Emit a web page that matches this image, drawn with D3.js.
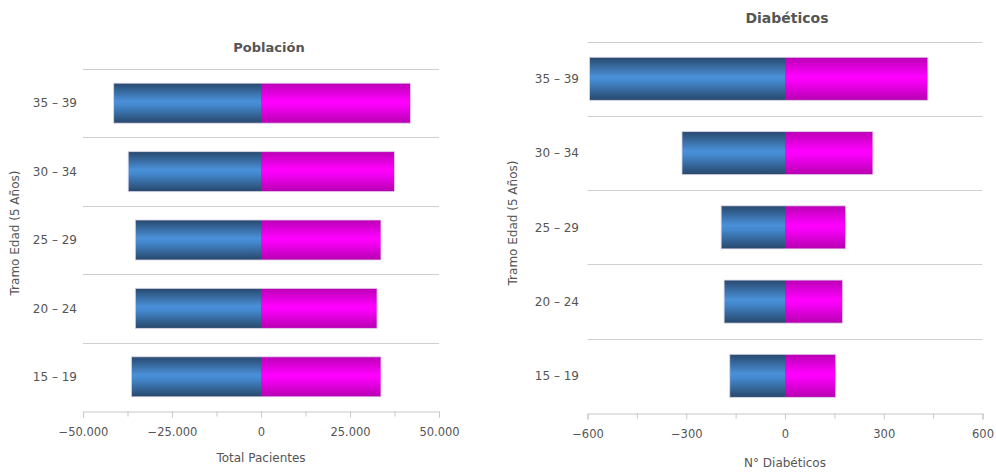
<!DOCTYPE html>
<html>
<head>
<meta charset="utf-8">
<script src="https://cdn.jsdelivr.net/npm/d3@7"></script>
<style>
html,body{margin:0;padding:0;background:#fff;}
svg{display:block;}
text{font-family:"DejaVu Sans",sans-serif;fill:#555;}
</style>
</head>
<body>
<svg id="chart" width="996" height="472"></svg>
<script>
// ---- data ----
const categories = ["15 – 19", "20 – 24", "25 – 29", "30 – 34", "35 – 39"];
const popMale    = [-36400, -35300, -35300, -37300, -41400];
const popFemale  = [33700, 32600, 33700, 37500, 42000];
const diabMale   = [-168, -185, -194, -313, -594];
const diabFemale = [154, 175, 184, 267, 434];
const popTicks   = [-50000, -25000, 0, 25000, 50000];
const diabTicks  = [-600, -300, 0, 300, 600];

const loc = d3.formatLocale({decimal: ",", thousands: ".", grouping: [3], currency: ["", "€"], minus: "−"});
const fmt = loc.format(",d");

const svg = d3.select("#chart");
const defs = svg.append("defs");
function grad(id, stops) {
  const g = defs.append("linearGradient").attr("id", id)
    .attr("x1", 0).attr("y1", 0).attr("x2", 0).attr("y2", 1);
  stops.forEach(s => g.append("stop").attr("offset", s[0]).attr("stop-color", s[1]));
}
grad("gBlue", [[0, "#27486d"], [0.45, "#4a90d8"], [0.55, "#4489cf"], [1, "#27476a"]]);
grad("gPink", [[0, "#bb00b4"], [0.45, "#ff00ff"], [0.55, "#f800f8"], [1, "#b700b0"]]);

function panel(cfg) {
  const g = svg.append("g");
  const x = d3.scaleLinear().domain(cfg.domain).range(cfg.xr);
  const order = categories.slice().reverse();
  const y = d3.scaleBand().domain(order).range(cfg.yr)
    .paddingInner(cfg.pad).paddingOuter(cfg.pad / 2);
  const step = y.step();

  // grid lines
  const gl = order.map(c => y(c) - y.paddingOuter() * step);
  g.selectAll("line.grid").data(gl).enter().append("line")
    .attr("x1", cfg.xr[0]).attr("x2", cfg.xr[1])
    .attr("y1", d => Math.round(d) + 0.5).attr("y2", d => Math.round(d) + 0.5)
    .attr("stroke", "#d0d0d0").attr("stroke-width", 1);

  // bars
  const rows = categories.map((c, i) => ({c, m: cfg.male[i], f: cfg.female[i]}));
  g.selectAll("rect.m").data(rows).enter().append("rect")
    .attr("x", d => x(d.m)).attr("width", d => x(0) - x(d.m))
    .attr("y", d => y(d.c)).attr("height", y.bandwidth())
    .attr("fill", "url(#gBlue)");
  g.selectAll("rect.f").data(rows).enter().append("rect")
    .attr("x", x(0)).attr("width", d => x(d.f) - x(0))
    .attr("y", d => y(d.c)).attr("height", y.bandwidth())
    .attr("fill", "url(#gPink)");
  g.selectAll("rect.o").data(rows).enter().append("rect")
    .attr("x", d => x(d.m)).attr("width", d => x(d.f) - x(d.m))
    .attr("y", d => y(d.c)).attr("height", y.bandwidth())
    .attr("fill", "none").attr("stroke", "#e0d8ec").attr("stroke-opacity", 0.8).attr("stroke-width", 1);

  // category labels
  g.selectAll("text.cat").data(order).enter().append("text")
    .attr("x", cfg.catX).attr("y", d => y(d) + y.bandwidth() / 2)
    .attr("dy", "0.35em").attr("text-anchor", "end")
    .attr("font-size", 12).text(d => d);

  // x axis
  const y0 = Math.round(cfg.yr[1]) + 0.5;
  const minor = [];
  for (let i = 0; i < cfg.ticks.length - 1; i++) minor.push((cfg.ticks[i] + cfg.ticks[i + 1]) / 2);
  const ax = g.append("g").attr("transform", `translate(0,${y0})`)
    .call(d3.axisBottom(x).tickValues(cfg.ticks).tickFormat(fmt).tickSize(6).tickPadding(10));
  ax.select(".domain").attr("stroke", "#c8c8c8");
  ax.selectAll(".tick line").attr("stroke", "#c8c8c8");
  ax.selectAll(".tick text").attr("font-size", 11.5).attr("font-family", "DejaVu Sans").attr("fill", "#555");
  const axm = g.append("g").attr("transform", `translate(0,${y0})`)
    .call(d3.axisBottom(x).tickValues(minor).tickFormat("").tickSize(5));
  axm.select(".domain").remove();
  axm.selectAll(".tick line").attr("stroke", "#c8c8c8");

  // titles
  g.append("text").attr("x", cfg.titleX).attr("y", cfg.titleY).attr("dy", "0.35em")
    .attr("text-anchor", "middle").attr("font-size", cfg.titleSize).attr("font-weight", "bold")
    .attr("fill", "#444").text(cfg.title);
  g.append("text").attr("x", x(0)).attr("y", cfg.xlabY).attr("dy", "0.35em")
    .attr("text-anchor", "middle").attr("font-size", 12).text(cfg.xlab);
  g.append("text").attr("transform", `translate(${cfg.ylabX},${cfg.ylabY}) rotate(-90)`)
    .attr("dy", "0.35em").attr("text-anchor", "middle").attr("font-size", 12)
    .text("Tramo Edad (5 Años)");
}

panel({
  domain: [-50000, 50000], xr: [83, 439], yr: [69, 411], pad: 0.415,
  male: popMale, female: popFemale, ticks: popTicks,
  catX: 77, title: "Población", titleX: 269, titleY: 47, titleSize: 13,
  xlab: "Total Pacientes", xlabY: 458, ylabX: 15, ylabY: 233
});
panel({
  domain: [-600, 600], xr: [587.5, 982.5], yr: [41.7, 413], pad: 0.42,
  male: diabMale, female: diabFemale, ticks: diabTicks,
  catX: 579, title: "Diabéticos", titleX: 787, titleY: 18, titleSize: 14,
  xlab: "N° Diabéticos", xlabY: 463, ylabX: 513, ylabY: 223
});
</script>
</body>
</html>
